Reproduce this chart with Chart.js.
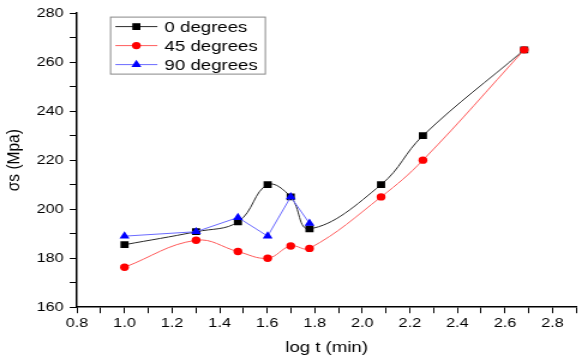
<!DOCTYPE html>
<html>
<head>
<meta charset="utf-8">
<script src="https://cdn.jsdelivr.net/npm/chart.js@4.4.1/dist/chart.umd.min.js"></script>
<style>
  html, body { margin: 0; padding: 0; background: #fff; overflow: hidden; }
  /* the original figure is stretched sideways, so draw narrow and widen */
  #wrap { width: 485px; height: 363px; transform: scaleX(1.2); transform-origin: 0 0; }
</style>
</head>
<body>
<div id="wrap"><canvas id="myChart" width="485" height="363"></canvas></div>
<script>
// log t (min) for each measurement
var logT = [1.0, 1.301, 1.477, 1.602, 1.699, 1.778, 2.079, 2.255, 2.681];
// σs (Mpa) per orientation
var deg0  = [185.5, 190.8, 194.8, 210, 205, 192, 210, 230, 265];
var deg45 = [176.3, 187.3, 182.7, 180, 185, 184, 205, 220, 265];
var deg90 = [189, 190.8, 196.6, 189, 205, 194.2];
var seriesNames = ['0 degrees', '45 degrees', '90 degrees'];

function pts(ys) {
  return ys.map(function (y, i) { return {x: logT[i], y: y}; });
}

var font = "'Liberation Sans', Arial, sans-serif";

function marker(ctx, style, r, x, y, color) {
  ctx.fillStyle = color;
  ctx.beginPath();
  if (style === 'rect') {
    var s = r * Math.SQRT1_2;
    ctx.rect(x - s, y - s, 2 * s, 2 * s);
  } else if (style === 'triangle') {
    ctx.moveTo(x, y - r);
    ctx.lineTo(x + r * 0.866, y + r * 0.5);
    ctx.lineTo(x - r * 0.866, y + r * 0.5);
    ctx.closePath();
  } else {
    ctx.arc(x, y, r, 0, Math.PI * 2);
  }
  ctx.fill();
}

// boxed legend in the top-left of the plot, line + marker like the original
var boxLegend = {
  id: 'boxLegend',
  afterDraw: function (chart) {
    var ctx = chart.ctx;
    var a = chart.chartArea;
    var left = a.left + 28, top = a.top + 4;
    var w = 129, rowH = 19;
    ctx.save();
    ctx.strokeStyle = '#888';
    ctx.lineWidth = 1;
    ctx.strokeRect(left, top, w, rowH * 3);
    ctx.font = '15.5px ' + font;
    ctx.textBaseline = 'middle';
    chart.data.datasets.forEach(function (ds, i) {
      var y = top + 9.5 + i * rowH;
      ctx.strokeStyle = ds.borderColor;
      ctx.lineWidth = 1;
      ctx.beginPath();
      ctx.moveTo(left + 4, y);
      ctx.lineTo(left + 39, y);
      ctx.stroke();
      marker(ctx, ds.pointStyle, ds.pointRadius, left + 21.5, y, ds.pointBackgroundColor);
      ctx.fillStyle = '#000';
      ctx.fillText(seriesNames[i], left + 45, y + 1);
    });
    ctx.restore();
  }
};

new Chart('myChart', {
  type: 'line',
  data: {
    datasets: [{
      label: seriesNames[0],
      data: pts(deg0),
      borderColor: '#2a2a2a',
      borderWidth: 1,
      pointStyle: 'rect',
      pointRadius: 4.8,
      pointBackgroundColor: '#000',
      pointBorderWidth: 0,
      tension: 0.4,
      order: 3
    }, {
      label: seriesNames[1],
      data: pts(deg45),
      borderColor: '#ff5c5c',
      borderWidth: 1,
      pointStyle: 'circle',
      pointRadius: 3.7,
      pointBackgroundColor: '#ff0000',
      pointBorderWidth: 0,
      tension: 0.4,
      order: 2
    }, {
      label: seriesNames[2],
      data: pts(deg90),
      borderColor: '#6a6aff',
      borderWidth: 1,
      pointStyle: 'triangle',
      pointRadius: 4.8,
      pointBackgroundColor: '#0000ff',
      pointBorderWidth: 0,
      tension: 0,
      order: 1
    }]
  },
  options: {
    responsive: false,
    animation: false,
    layout: { padding: { left: 0, right: 1, top: 12, bottom: 2 } },
    plugins: {
      legend: { display: false },
      tooltip: { enabled: false }
    },
    scales: {
      x: {
        type: 'linear',
        min: 0.8,
        max: 2.9,
        ticks: {
          stepSize: 0.1,
          autoSkip: false,
          maxRotation: 0,
          padding: 2,
          color: '#000',
          font: { family: font, size: 13.5 },
          callback: function (v) {
            var t = Math.round(v * 10);
            return (t % 2 === 0 && t <= 28) ? (t / 10).toFixed(1) : '';
          }
        },
        grid: { drawOnChartArea: false, tickLength: 6, color: '#000' },
        border: { color: '#000', width: 1.5 },
        title: {
          display: true,
          text: 'log t (min)',
          color: '#000',
          font: { family: font, size: 15.5 },
          padding: { top: 5, bottom: 4 }
        }
      },
      y: {
        min: 160,
        max: 280,
        ticks: {
          stepSize: 10,
          autoSkip: false,
          padding: 5,
          color: '#000',
          font: { family: font, size: 13.5 },
          callback: function (v) {
            return v % 20 === 0 ? v : '';
          }
        },
        grid: { drawOnChartArea: false, tickLength: 6, color: '#000' },
        border: { color: '#000', width: 1.5 },
        title: {
          display: true,
          text: 'σs (Mpa)',
          color: '#000',
          font: { family: font, size: 15.5 },
          padding: { top: 2, bottom: 5 }
        }
      }
    }
  },
  plugins: [boxLegend]
});
</script>
</body>
</html>
